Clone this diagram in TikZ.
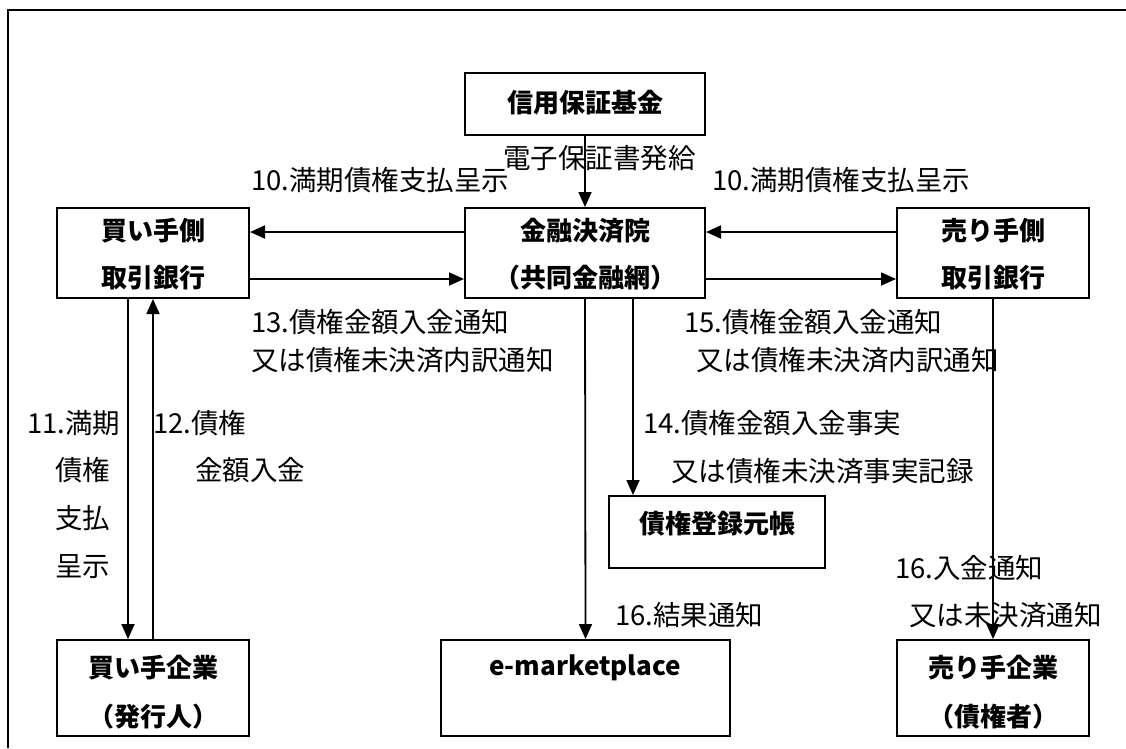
\documentclass[tikz,border=0pt]{standalone}
\usepackage{fontspec}
\newfontfamily\cjk{Noto Sans CJK JP}
\usetikzlibrary{arrows.meta,calc}
\tikzset{
  box/.style={draw, line width=2pt, inner sep=0pt, fill=white},
  lbl/.style={font=\cjk\fontsize{27.5}{27.5}\selectfont, inner sep=0pt, anchor=west},
  btxt/.style={font=\cjk\bfseries\fontsize{26}{26}\selectfont, inner sep=0pt},
  arr/.style={line width=1.8pt, -{Triangle[length=15pt,width=13pt]}},
  frame/.style={line width=2pt}
}
\begin{document}
\begin{tikzpicture}[x=1pt,y=-1pt]
\useasboundingbox (0,0) rectangle (1126,748);
\draw[frame] (1126,10) -- (8,10) -- (8,748);
% boxes
\node[box, minimum width=240pt, minimum height=62pt] (kikin) at (585,104) {};
\node[box, minimum width=192pt, minimum height=90pt] (bb) at (153,253) {};
\node[box, minimum width=240pt, minimum height=90pt] (fk) at (585,253) {};
\node[box, minimum width=192pt, minimum height=90pt] (sb) at (993,253) {};
\node[box, minimum width=216pt, minimum height=72pt] (ledger) at (717,532) {};
\node[box, minimum width=289pt, minimum height=96pt] (em) at (585.5,688) {};
\node[box, minimum width=192pt, minimum height=96pt] (bc) at (153,688) {};
\node[box, minimum width=192pt, minimum height=96pt] (sc) at (993,688) {};
% box texts
\node[btxt] (kikint) at (585,103) {信用保証基金};
\node[btxt] (bbt1) at (153,231) {買い手側};
\node[btxt] (bbt2) at (153,278) {取引銀行};
\node[btxt] (fkt1) at (585,231) {金融決済院};
\node[btxt] (fkt2) at (585,278) {（共同金融網）};
\node[btxt] (sbt1) at (993,231) {売り手側};
\node[btxt] (sbt2) at (993,278) {取引銀行};
\node[btxt] (ledgert) at (717,524) {債権登録元帳};
\node[btxt] (emt) at (585,668) {e-marketplace};
\node[btxt] (bct1) at (153,668) {買い手企業};
\node[btxt] (bct2) at (153,717) {（発行人）};
\node[btxt] (sct1) at (993,668) {売り手企業};
\node[btxt] (sct2) at (993,717) {（債権者）};
% helper coordinates
\coordinate (r1) at (0,232);
\coordinate (r2) at (0,279);
\coordinate (c128) at (128,0);
\coordinate (c153) at (153,0);
\coordinate (c633) at (633,0);
% connectors
\draw[arr] (kikin.south) -- (fk.north);
\draw[arr] (fk.west |- r1) -- (bb.east |- r1);
\draw[arr] (bb.east |- r2) -- (fk.west |- r2);
\draw[arr] (sb.west |- r1) -- (fk.east |- r1);
\draw[arr] (fk.east |- r2) -- (sb.west |- r2);
\draw[arr] (bb.south -| c128) -- (bc.north -| c128);
\draw[arr] (bc.north -| c153) -- (bb.south -| c153);
\draw[arr] (fk.south) -- (em.north);
\draw[arr] (fk.south -| c633) -- (ledger.north -| c633);
\draw[arr] (sb.south) -- (sc.north);
% labels
\node[lbl] (l1) at (503,158) {電子保証書発給};
\node[lbl] (l2) at (251,180) {10.満期債権支払呈示};
\node[lbl] (l3) at (712,180) {10.満期債権支払呈示};
\node[lbl] (l4) at (251,322) {13.債権金額入金通知};
\node[lbl] (l5) at (251,360) {又は債権未決済内訳通知};
\node[lbl] (l6) at (684,322) {15.債権金額入金通知};
\node[lbl] (l7) at (696,360) {又は債権未決済内訳通知};
\node[lbl] (l8) at (27,423) {11.満期};
\node[lbl] (l9) at (55,470) {債権};
\node[lbl] (l10) at (55,518) {支払};
\node[lbl] (l11) at (55,567) {呈示};
\node[lbl] (l12) at (153,423) {12.債権};
\node[lbl] (l13) at (195,470) {金額入金};
\node[lbl] (l14) at (643,423) {14.債権金額入金事実};
\node[lbl] (l15) at (671,471) {又は債権未決済事実記録};
\node[lbl] (l16) at (895,568) {16.入金通知};
\node[lbl] (l17) at (909,615) {又は未決済通知};
\node[lbl] (l18) at (615,615) {16.結果通知};
\end{tikzpicture}
\end{document}
